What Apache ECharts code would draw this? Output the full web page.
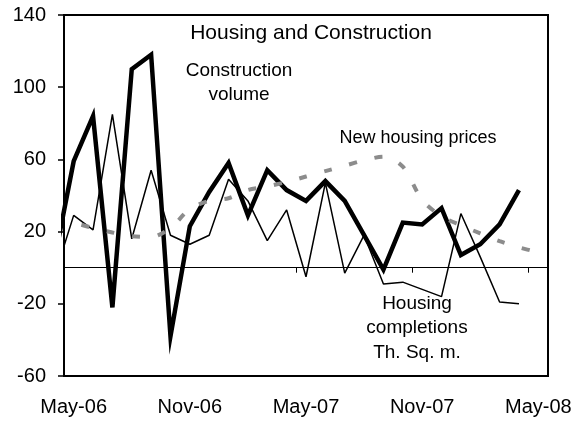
<!DOCTYPE html>
<html>
<head>
<meta charset="utf-8">
<script src="https://cdn.jsdelivr.net/npm/echarts@6/dist/echarts.min.js"></script>
<style>
html, body { margin: 0; padding: 0; background: #fff; }
#main { width: 583px; height: 424px; }
</style>
</head>
<body>
<div id="main"></div>
<script>
// axis categories (May-06 .. May-08)
const months = ['May-06', 'Jun-06', 'Jul-06', 'Aug-06', 'Sep-06', 'Oct-06', 'Nov-06', 'Dec-06',
  'Jan-07', 'Feb-07', 'Mar-07', 'Apr-07', 'May-07', 'Jun-07', 'Jul-07', 'Aug-07', 'Sep-07', 'Oct-07',
  'Nov-07', 'Dec-07', 'Jan-08', 'Feb-08', 'Mar-08', 'Apr-08', 'May-08'];
// data months start one earlier: Apr-06 lies left of the axis and only shows as a clipped entry segment
const dataMonths = ['Apr-06'].concat(months);

const constructionVolume = [4, 59, 84, -22, 110, 118, -38, 23, 42, 58, 29, 54, 43, 37, 48, 37, 18, -1,
  25, 24, 33, 7, 13, 24, 43, null];

const housingCompletions = [-5, 29, 21, 85, 16, 54, 18, 13, 18, 49, 37, 15, 32, -5, 47, -3, 18, -9,
  -8, -12, -16, 30, 6, -19, -20, null];

const housingPrices = [null, 25, 22, 19.5, 17.5, 17, 22, 32.5, 37, 38.5, 43, 45, 47.5, 50.5, 53.5, 56.5,
  59.5, 61.5, 56, 37.5, 28.5, 23.5, 19, 14.7, 11.3, 8.5];

const font = 'Liberation Sans, Arial, Helvetica, sans-serif';

const myChart = echarts.init(document.getElementById('main'));

const option = {
  animation: false,
  backgroundColor: '#fff',
  textStyle: { fontFamily: font },
  grid: {
    left: 64, right: 35, top: 15, bottom: 48,
    show: true, borderColor: '#000', borderWidth: 2,
    outerBoundsMode: 'none'
  },
  xAxis: [
    {
      // zero line with the half-year ticks
      type: 'category',
      data: months,
      boundaryGap: true,
      position: 'bottom',
      axisLine: { show: true, onZero: true, lineStyle: { color: '#000', width: 1 } },
      axisTick: { show: true, interval: 5, length: 5, lineStyle: { color: '#000', width: 1 } },
      axisLabel: { show: false },
      splitLine: { show: false }
    },
    {
      // hidden axis used to place the lines, including the clipped Apr-06 point
      type: 'category',
      data: dataMonths,
      min: 1,
      boundaryGap: true,
      show: false,
      position: 'top'
    },
    {
      // labels along the bottom of the plot
      type: 'category',
      data: months,
      boundaryGap: true,
      position: 'bottom',
      axisLine: { show: false, onZero: false },
      axisTick: { show: false },
      axisLabel: { interval: 5, fontSize: 20, color: '#000', margin: 21, fontFamily: font },
      splitLine: { show: false }
    }
  ],
  yAxis: {
    type: 'value',
    min: -60, max: 140, interval: 40,
    axisLine: { show: true, onZero: false, lineStyle: { color: '#000', width: 2 } },
    axisTick: { show: true, length: 6, lineStyle: { color: '#000', width: 1.5 } },
    axisLabel: { fontSize: 20, color: '#000', margin: 18, fontFamily: font },
    splitLine: { show: false }
  },
  series: [
    {
      name: 'Housing completions',
      type: 'line',
      xAxisIndex: 1,
      data: housingCompletions,
      showSymbol: false,
      lineStyle: { color: '#000', width: 1.5 },
      z: 2
    },
    {
      name: 'Construction volume',
      type: 'line',
      xAxisIndex: 1,
      data: constructionVolume,
      showSymbol: false,
      lineStyle: { color: '#000', width: 4.5, join: 'miter' },
      z: 3
    },
    {
      name: 'New housing prices',
      type: 'line',
      xAxisIndex: 1,
      data: housingPrices,
      showSymbol: false,
      smooth: 0.3,
      lineStyle: { color: '#8c8c8c', width: 4, type: [8, 18], dashOffset: 18, cap: 'butt' },
      z: 4
    }
  ],
  graphic: [
    { type: 'text', x: 311, y: 33, style: { text: 'Housing and Construction', fill: '#000',
      font: '21px ' + font, textAlign: 'center', textVerticalAlign: 'middle' } },
    { type: 'text', x: 239, y: 83, style: { text: 'Construction\nvolume', fill: '#000',
      font: '19px ' + font, lineHeight: 24, textAlign: 'center', textVerticalAlign: 'middle' } },
    { type: 'text', x: 418, y: 138, style: { text: 'New housing prices', fill: '#000',
      font: '18px ' + font, textAlign: 'center', textVerticalAlign: 'middle' } },
    { type: 'text', x: 417, y: 328, style: { text: 'Housing\ncompletions\nTh. Sq. m.', fill: '#000',
      font: '19px ' + font, lineHeight: 24.5, textAlign: 'center', textVerticalAlign: 'middle' } }
  ]
};

option && myChart.setOption(option);
</script>
</body>
</html>
